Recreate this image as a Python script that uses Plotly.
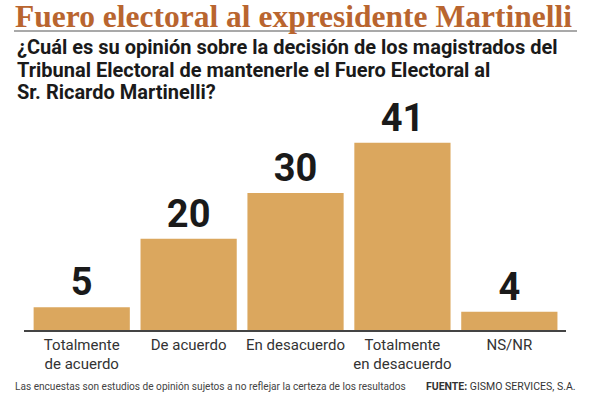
import plotly.graph_objects as go

categories = ["Totalmente<br>de acuerdo", "De acuerdo", "En desacuerdo", "Totalmente<br>en desacuerdo", "NS/NR"]
values = [5, 20, 30, 41, 4]

title = "Fuero electoral al expresidente Martinelli"
question_lines = ["¿Cuál es su opinión sobre la decisión de los magistrados del",
                  "Tribunal Electoral de mantenerle el Fuero Electoral al",
                  "Sr. Ricardo Martinelli?"]
footnote = "Las encuestas son estudios de opinión sujetos a no reflejar la certeza de los resultados"
source = "<b>FUENTE:</b> GISMO SERVICES, S.A."

W, H = 591, 394
ml, mr, mt, mb = 24, 25, 110, 64
PW, PH = W - ml - mr, H - mt - mb


def px(rx):
    return (rx - ml) / PW


def py(ry):
    return 1 - (ry - mt) / PH


fig = go.Figure(go.Bar(
    x=list(range(len(categories))), y=values,
    marker=dict(color="#DBA75E", line=dict(width=0)),
    text=[f"<b>{v}</b>" for v in values], textposition="outside",
    textfont=dict(family="Roboto", size=38, color="#1a1a1a"),
    cliponaxis=False, hoverinfo="skip",
))

fig.update_layout(
    width=W, height=H,
    margin=dict(l=ml, r=mr, t=mt, b=mb),
    paper_bgcolor="white", plot_bgcolor="white",
    bargap=0.1, showlegend=False,
    xaxis=dict(range=[-0.54, 4.53], tickmode="array",
               tickvals=list(range(len(categories))), ticktext=categories,
               tickfont=dict(family="Roboto", size=15, color="#333333"),
               showline=True, linecolor="#444444", linewidth=1.5,
               showgrid=False, zeroline=False, ticks=""),
    yaxis=dict(range=[0, 48.2], visible=False, showgrid=False, zeroline=False),
    font=dict(family="Roboto"),
)

fig.add_annotation(text=f"<b>{title}</b>", xref="paper", yref="paper",
                   x=px(13), y=py(16), xanchor="left", yanchor="middle", showarrow=False,
                   font=dict(family="Liberation Serif", size=31.5, color="#B9652F"))
fig.add_shape(type="line", xref="paper", yref="paper",
              x0=px(14), x1=px(577), y0=py(31), y1=py(31),
              line=dict(color="#555555", width=1.2))
for i, line in enumerate(question_lines):
    fig.add_annotation(text=f"<b>{line}</b>", xref="paper", yref="paper",
                       x=px(15), y=py(47 + 22.5 * i), xanchor="left", yanchor="middle",
                       showarrow=False,
                       font=dict(family="Roboto", size=20, color="#1a1a1a"))
fig.add_annotation(text=footnote, xref="paper", yref="paper",
                   x=px(13), y=py(386), xanchor="left", yanchor="middle", showarrow=False,
                   font=dict(family="Roboto", size=10.1, color="#444444"))
fig.add_annotation(text=source, xref="paper", yref="paper",
                   x=px(578), y=py(386), xanchor="right", yanchor="middle", showarrow=False,
                   font=dict(family="Roboto", size=10.5, color="#333333"))

fig.write_html("out.html", post_script="document.body.style.margin='0px';",
               config={"displayModeBar": False})
